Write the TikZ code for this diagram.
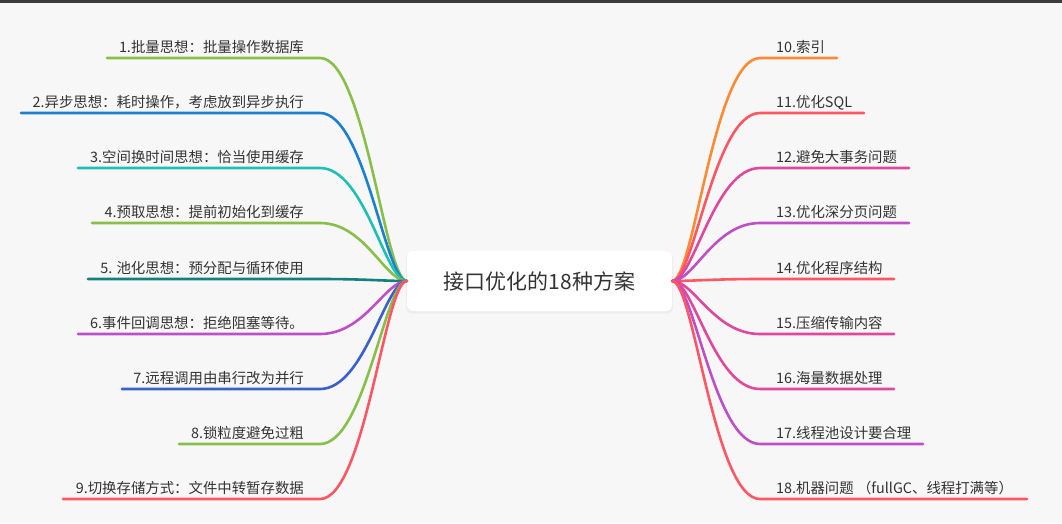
\documentclass[tikz,border=0pt]{standalone}
\usepackage{fontspec}
\setmainfont{Noto Sans CJK SC}
\definecolor{bg}{HTML}{F7F7F7}
\definecolor{bar}{HTML}{3C3C3C}
\definecolor{txt}{HTML}{333333}
\definecolor{cgreen}{HTML}{88BF4A}
\definecolor{cblue}{HTML}{1B80D0}
\definecolor{cteal}{HTML}{1EBFB5}
\definecolor{cdteal}{HTML}{12807F}
\definecolor{cpurple}{HTML}{BF4FC7}
\definecolor{cindigo}{HTML}{3B5FCC}
\definecolor{cred}{HTML}{FF5663}
\definecolor{corange}{HTML}{FF8A35}
\definecolor{cpink}{HTML}{E0489E}
\begin{document}
\begin{tikzpicture}[x=1pt,y=-1pt,
  branch/.style={line width=2.6pt, line cap=round},
  lbl/.style={font=\fontsize{14.4}{17}\selectfont, text=txt, inner sep=0pt},
  rootbox/.style={fill=white, rounded corners=6pt, minimum width=265pt, minimum height=60pt,
    inner sep=0pt, font=\fontsize{21}{25}\selectfont, text=txt}]
\fill[bg] (0,0) rectangle (1062,523);
\fill[bar] (0,0) rectangle (1062,3);
\useasboundingbox (0,0) rectangle (1062,523);
\fill[black!7, rounded corners=6pt] (406,252.5) rectangle (673,313.5);
\node[rootbox] (root) at (539.5,281) {接口优化的18种方案};
\foreach \i/\y/\xs/\c/\t in {
  1/58/107/cgreen/{1.批量思想：批量操作数据库},
  2/113/21/cblue/{2.异步思想：耗时操作，考虑放到异步执行},
  3/168/78/cteal/{3.空间换时间思想：恰当使用缓存},
  4/223/92/cgreen/{4.预取思想：提前初始化到缓存},
  5/279/88/cdteal/{5. 池化思想：预分配与循环使用},
  6/334/78/cpurple/{6.事件回调思想：拒绝阻塞等待。},
  7/389/122/cindigo/{7.远程调用由串行改为并行},
  8/444/179/cgreen/{8.锁粒度避免过粗},
  9/499/63/cred/{9.切换存储方式：文件中转暂存数据}} {
  \coordinate (k\i) at (320,\y);
  \coordinate (e\i) at (\xs,\y);
  \node[lbl, anchor=base east] (t\i) at (304,\y-6) {\t};
  \draw[branch, \c] (root.west) .. controls (385,281) and (365,\y) .. (k\i) -- (e\i);
}
\foreach \i/\y/\xe/\c/\t in {
  10/58/837/corange/{10.索引},
  11/113/864/cred/{11.优化SQL},
  12/168/909/cpink/{12.避免大事务问题},
  13/223/909/cpurple/{13.优化深分页问题},
  14/279/894/cred/{14.优化程序结构},
  15/334/894/cpink/{15.压缩传输内容},
  16/389/894/cpink/{16.海量数据处理},
  17/444/923/cpurple/{17.线程池设计要合理},
  18/499/1027/cred/{18.机器问题 （fullGC、线程打满等）}} {
  \coordinate (k\i) at (760,\y);
  \coordinate (e\i) at (\xe,\y);
  \node[lbl, anchor=base west] (t\i) at (776,\y-6) {\t};
  \draw[branch, \c] (root.east) .. controls (694,281) and (714,\y) .. (k\i) -- (e\i);
}
\end{tikzpicture}
\end{document}
